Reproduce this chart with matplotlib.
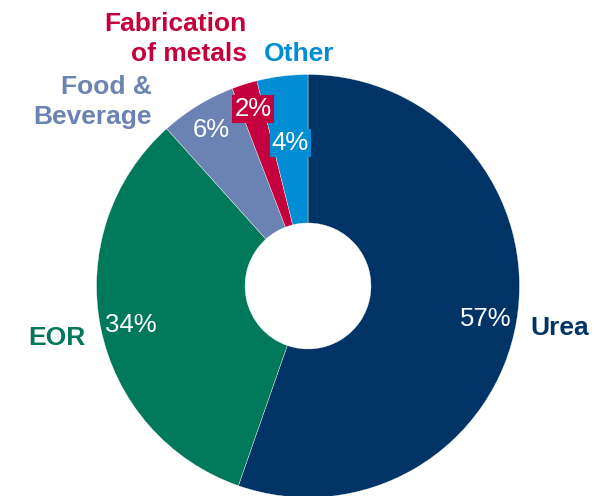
import matplotlib
matplotlib.use("Agg")
import matplotlib.pyplot as plt

# data (shares as printed on the chart)
categories = ["Urea", "EOR", "Food &\nBeverage", "Fabrication\nof metals", "Other"]
shares = [57, 34, 6, 2, 4]
colors = ["#003466", "#00795B", "#6B83B2", "#C5003E", "#008DD4"]

W, H = 610, 496
CX, CY = 308, 286          # pie centre, pixels from top-left
R_OUT, R_IN = 211.5, 63


def py(y):
    # pixel row (from top) -> data y (from bottom)
    return H - y


fig = plt.figure(figsize=(W / 100, H / 100), dpi=100)
ax = fig.add_axes([0, 0, 1, 1])

ax.pie(shares, colors=colors, startangle=90, counterclock=False,
       radius=R_OUT, center=(CX, py(CY)),
       wedgeprops=dict(width=R_OUT - R_IN, linewidth=0.25, edgecolor="white"))

ax.set_xlim(0, W)
ax.set_ylim(0, H)
ax.set_aspect("equal")
ax.axis("off")

font = "Liberation Sans"
lab_size = 19
pct_size = 18.5

# category labels: (x, baseline of last line, ha)
label_pos = [
    (530, 335, "left"),
    (86, 345, "right"),
    (152, 124, "right"),
    (247, 61, "right"),
    (264, 61, "left"),
]
for name, col, (x, y, ha) in zip(categories, colors, label_pos):
    ax.text(x, py(y), name, color=col, fontsize=lab_size, fontweight="bold",
            family=font, ha=ha, va="baseline", linespacing=1.32,
            multialignment=ha)

# percentage labels: (x centre, y, boxed?)
pct_pos = [
    (486, 326, False),
    (131, 332, False),
    (211, 137, False),
    (253, 109, True),
    (290.5, 143, True),
]
for val, col, (x, y, boxed) in zip(shares, colors, pct_pos):
    if boxed:
        ax.text(x, py(y), f"{val}%", color="white", fontsize=pct_size,
                family=font, ha="center", va="center",
                bbox=dict(boxstyle="square,pad=0.08", facecolor=col,
                          edgecolor="none"))
    else:
        ax.text(x, py(y), f"{val}%", color="white", fontsize=pct_size,
                family=font, ha="center", va="baseline")

fig.savefig("out.png", dpi=100)
